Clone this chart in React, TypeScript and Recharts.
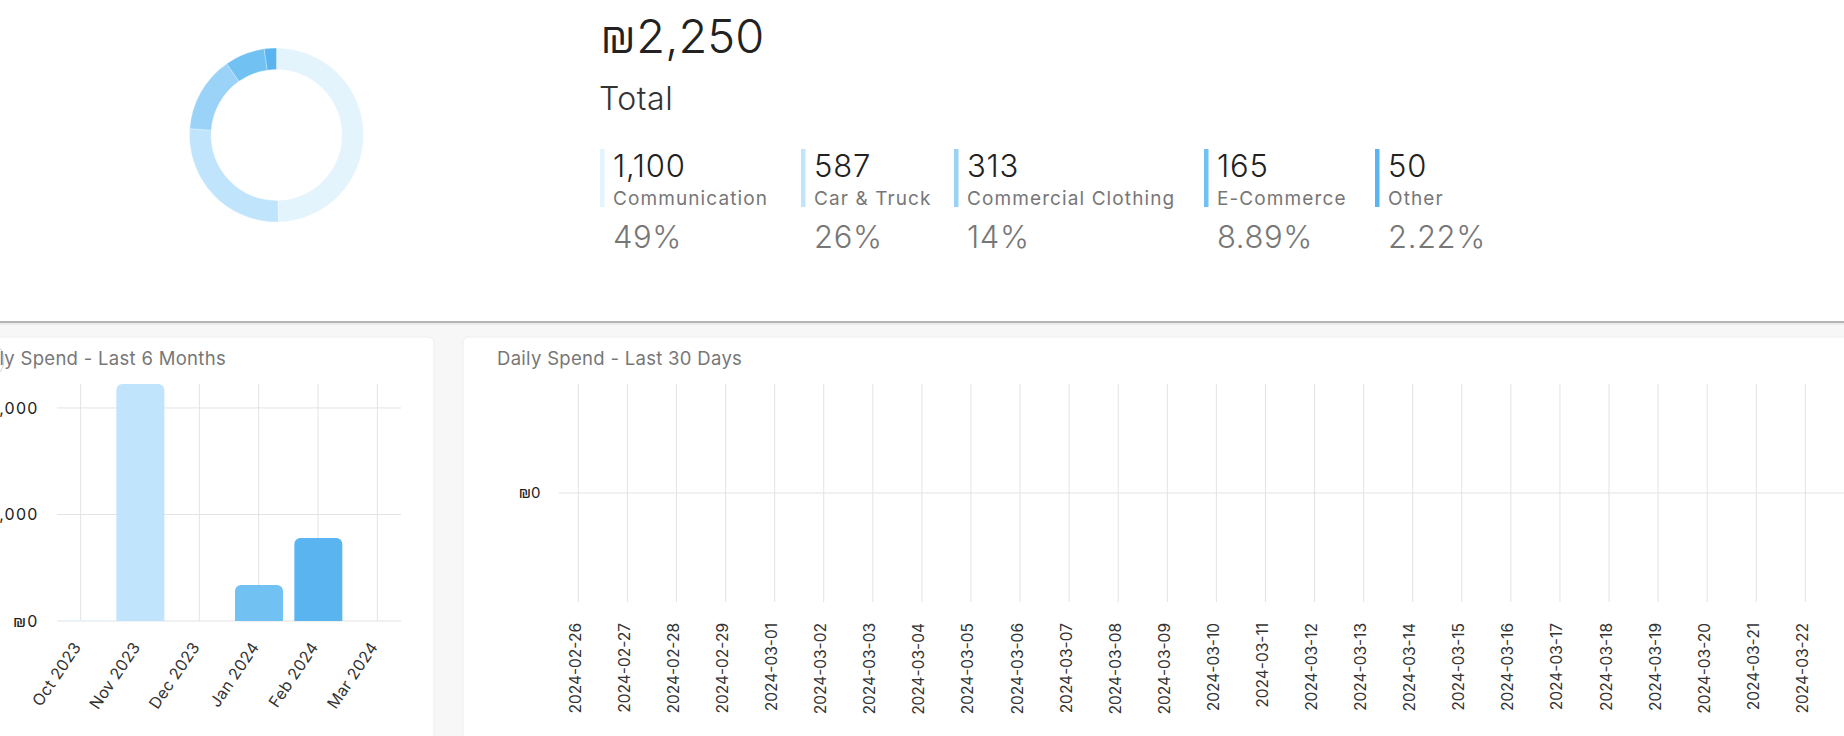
import { Bar, BarChart, CartesianGrid, Cell, Pie, PieChart, XAxis, YAxis } from 'recharts';

const FONT = 'Inter, "Open Sans", "Noto Sans", sans-serif';
const PALETTE = ['#e3f4fd', '#c0e4fb', '#9ad3f7', '#71c1f3', '#5ab4f0'];

// spend by category
const CATEGORIES = ['Communication', 'Car & Truck', 'Commercial Clothing', 'E-Commerce', 'Other'];
const CATEGORY_AMOUNTS = [1100, 587, 313, 165, 50];
const CATEGORY_SHARES = ['49%', '26%', '14%', '8.89%', '2.22%'];
const TOTAL_SPEND = 2250;

// monthly spend
const MONTHS = ['Oct 2023', 'Nov 2023', 'Dec 2023', 'Jan 2024', 'Feb 2024', 'Mar 2024'];
const MONTHLY_SPEND = [20, 4450, 0, 675, 1560, 0];
const MONTHLY_TICKS = [0, 2000, 4000];

// daily spend
const DAYS = [
  '2024-02-26', '2024-02-27', '2024-02-28', '2024-02-29', '2024-03-01', '2024-03-02',
  '2024-03-03', '2024-03-04', '2024-03-05', '2024-03-06', '2024-03-07', '2024-03-08',
  '2024-03-09', '2024-03-10', '2024-03-11', '2024-03-12', '2024-03-13', '2024-03-14',
  '2024-03-15', '2024-03-16', '2024-03-17', '2024-03-18', '2024-03-19', '2024-03-20',
  '2024-03-21', '2024-03-22', '2024-03-23', '2024-03-24', '2024-03-25', '2024-03-26',
];
const DAILY_SPEND = [
  0, 0, 0, 0, 0, 0, 0, 0, 0, 0, 0, 0, 0, 0, 0,
  0, 0, 0, 0, 0, 0, 0, 0, 0, 0, 0, 0, 0, 0, 0,
];
const DAILY_TICKS = [0];

// left edge of each stat column in the header
const STAT_X = [600, 801, 954, 1204, 1375];

const shekel = (v: number) => `₪${v.toLocaleString('en-US')}`;

const categoryData = CATEGORIES.map((name, i) => ({ name, value: CATEGORY_AMOUNTS[i] }));
const monthlyData = MONTHS.map((month, i) => ({ month, spend: MONTHLY_SPEND[i] }));
const dailyData = DAYS.map((day, i) => ({ day, spend: DAILY_SPEND[i] }));

function MonthTick({ x, y, payload }: any) {
  return (
    <g transform={`translate(${x + 1},${y + 26})`}>
      <text transform="rotate(-56)" textAnchor="end" fontSize={16} fill="#333" letterSpacing={0.3}>
        {payload.value}
      </text>
    </g>
  );
}

function DayTick({ x, y, payload }: any) {
  return (
    <g transform={`translate(${x + 2.5},${y + 21})`}>
      <text transform="rotate(-90)" textAnchor="end" fontSize={15.5} fill="#333">
        {payload.value}
      </text>
    </g>
  );
}

function Header() {
  return (
    <>
      <text x={600} y={53} fontSize={47} fontWeight={300} fill="#222">
        {shekel(TOTAL_SPEND)}
      </text>
      <text x={599} y={110} fontSize={32} fontWeight={300} fill="#333" letterSpacing={0.5}>
        Total
      </text>
      {CATEGORIES.map((name, i) => (
        <g key={name}>
          <rect x={STAT_X[i]} y={149} width={4.5} height={58} fill={PALETTE[i]} />
          <text x={STAT_X[i] + 13} y={177} fontSize={31} fontWeight={300} fill="#222" letterSpacing={0.8}>
            {CATEGORY_AMOUNTS[i].toLocaleString('en-US')}
          </text>
          <text x={STAT_X[i] + 13} y={205} fontSize={19} fill="#777" letterSpacing={1.1}>
            {name}
          </text>
          <text x={STAT_X[i] + 13} y={248} fontSize={31} fontWeight={300} fill="#777" letterSpacing={0.6}>
            {CATEGORY_SHARES[i]}
          </text>
        </g>
      ))}
    </>
  );
}

export default function App() {
  return (
    <div
      style={{
        position: 'fixed',
        left: 0,
        top: 0,
        width: 1844,
        height: 736,
        overflow: 'hidden',
        fontFamily: FONT,
        background: '#f7f7f7',
      }}
    >
      <svg width={1844} height={736} style={{ position: 'absolute', left: 0, top: 0 }}>
        <rect x={0} y={0} width={1844} height={322} fill="#fff" />
        <rect x={0} y={321} width={1844} height={2} fill="#b3b3b3" />
        <rect x={0} y={323} width={1844} height={2} fill="#ececec" />
        <rect x={-60} y={337} width={494} height={460} rx={6} fill="#fff" stroke="#eeeeee" />
        <rect x={463} y={337} width={1500} height={460} rx={6} fill="#fff" stroke="#eeeeee" />
        <circle cx={-16} cy={360} r={20} fill="none" stroke="#d4d4d4" />
        <Header />
        <text x={226} y={365} fontSize={18.5} fill="#777" textAnchor="end" letterSpacing={0.3}>
          Monthly Spend - Last 6 Months
        </text>
        <text x={497} y={365} fontSize={18.5} fill="#777" letterSpacing={0.3}>
          Daily Spend - Last 30 Days
        </text>
      </svg>

      <div style={{ position: 'absolute', left: 171, top: 30 }}>
        <PieChart width={200} height={200}>
          <Pie
            data={categoryData}
            dataKey="value"
            nameKey="name"
            cx={100.5}
            cy={100}
            innerRadius={65.5}
            outerRadius={87}
            startAngle={90}
            endAngle={-270}
            stroke="#fff"
            strokeWidth={0.3}
            isAnimationActive={false}
          >
            {categoryData.map((d, i) => (
              <Cell key={d.name} fill={PALETTE[i]} />
            ))}
          </Pie>
        </PieChart>
      </div>

      <div style={{ position: 'absolute', left: -100, top: 337 }}>
        <BarChart
          width={534}
          height={399}
          data={monthlyData}
          margin={{ top: 47, right: 33, bottom: 15, left: 57 }}
        >
          <CartesianGrid stroke="#e3e3e3" syncWithTicks />
          <XAxis
            dataKey="month"
            interval={0}
            axisLine={false}
            tickLine={false}
            tickSize={0}
            tickMargin={0}
            padding={{ left: -6, right: -6 }}
            height={100}
            tick={<MonthTick />}
          />
          <YAxis
            type="number"
            domain={[0, 'dataMax']}
            ticks={MONTHLY_TICKS}
            tickFormatter={shekel}
            axisLine={false}
            tickLine={false}
            tickSize={0}
            tickMargin={18.5}
            width={100}
            tick={{ fill: '#222', fontSize: 16, letterSpacing: 1.2 }}
          />
          <Bar dataKey="spend" barSize={48} radius={[6, 6, 0, 0]} isAnimationActive={false}>
            {monthlyData.map((d, i) => (
              <Cell key={d.month} fill={PALETTE[i % PALETTE.length]} />
            ))}
          </Bar>
        </BarChart>
      </div>

      <div style={{ position: 'absolute', left: 463, top: 337 }}>
        <BarChart
          width={1568}
          height={399}
          data={dailyData}
          margin={{ top: 47, right: 10, bottom: 14, left: 36 }}
        >
          <CartesianGrid stroke="#e3e3e3" syncWithTicks />
          <XAxis
            dataKey="day"
            interval={0}
            axisLine={false}
            tickLine={false}
            tickSize={0}
            tickMargin={0}
            padding={{ left: -5.2, right: -5.2 }}
            height={120}
            tick={<DayTick />}
          />
          <YAxis
            type="number"
            domain={[-1, 1]}
            ticks={DAILY_TICKS}
            tickFormatter={shekel}
            axisLine={false}
            tickLine={false}
            tickSize={0}
            tickMargin={18.5}
            width={60}
            tick={{ fill: '#222', fontSize: 15 }}
          />
          <Bar dataKey="spend" fill={PALETTE[4]} isAnimationActive={false} />
        </BarChart>
      </div>
    </div>
  );
}
